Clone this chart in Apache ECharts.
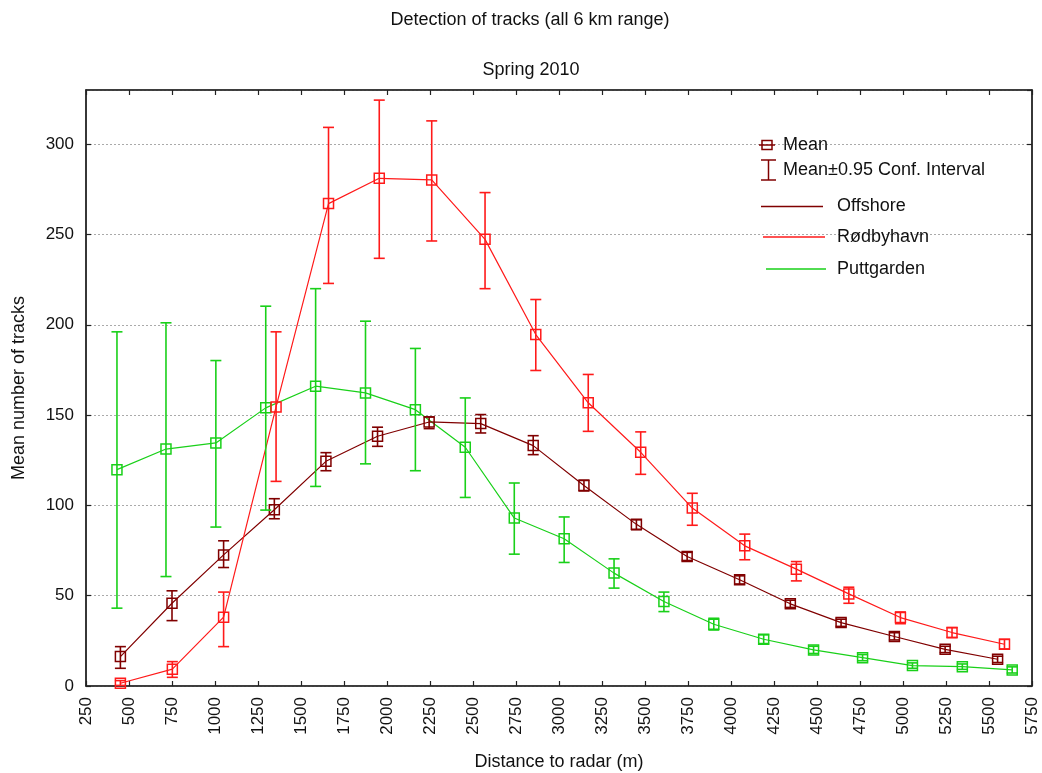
<!DOCTYPE html>
<html>
<head>
<meta charset="utf-8">
<script src="https://cdn.jsdelivr.net/npm/echarts@6/dist/echarts.min.js"></script>
<style>
html,body{margin:0;padding:0;background:#fff;}
#chart{width:1042px;height:773px;}
</style>
</head>
<body>
<div id="chart"></div>
<script>
// ---- data ----
const xTickMin = 250, xTickMax = 5750, xTickStep = 250;
const yTickMin = 0, yTickMax = 330, yTickStep = 50;

const offshoreX    = [450, 750, 1050, 1345, 1645, 1945, 2245, 2545, 2850, 3145, 3450, 3745, 4050, 4345, 4640, 4950, 5245, 5550];
const offshoreMean = [16.3, 45.8, 72.6, 97.6, 124.4, 138.3, 146.2, 145.3, 133.1, 111.0, 89.5, 71.7, 58.8, 45.5, 35.1, 27.4, 20.3, 14.8];
const offshoreLo   = [9.8, 36.2, 65.6, 92.6, 119.2, 132.7, 142.5, 140.1, 128.1, 108.0, 86.5, 69.5, 56.5, 43.5, 33.0, 25.5, 18.5, 13.0];
const offshoreHi   = [21.8, 52.7, 80.4, 103.7, 129.2, 143.3, 149.0, 150.3, 138.6, 114.0, 92.0, 74.0, 61.0, 47.5, 37.0, 29.5, 22.0, 16.5];

const rodbyX    = [450, 752, 1050, 1355, 1660, 1955, 2260, 2570, 2865, 3170, 3475, 3775, 4080, 4380, 4685, 4985, 5285, 5590];
const rodbyMean = [1.5, 9.3, 38.1, 154.5, 267.1, 281.1, 280.2, 247.3, 194.6, 156.8, 129.4, 98.5, 77.6, 64.7, 51.0, 37.9, 29.6, 23.1];
const rodbyLo   = [0.3, 4.8, 21.8, 113.3, 222.9, 236.8, 246.4, 220.0, 174.7, 141.0, 117.2, 89.0, 69.9, 58.2, 45.8, 34.5, 26.8, 20.5];
const rodbyHi   = [3.0, 13.5, 52.0, 196.1, 309.3, 324.4, 312.9, 273.2, 214.0, 172.5, 140.7, 106.7, 84.1, 68.9, 54.7, 41.0, 32.3, 25.8];

const puttX    = [430, 715, 1005, 1295, 1585, 1875, 2165, 2455, 2740, 3030, 3320, 3610, 3900, 4190, 4480, 4765, 5055, 5345, 5635];
const puttMean = [119.8, 131.2, 134.6, 154.0, 166.0, 162.3, 153.0, 132.2, 93.0, 81.5, 62.5, 46.8, 34.2, 25.9, 20.0, 15.7, 11.3, 10.7, 8.9];
const puttLo   = [43.1, 60.6, 88.0, 97.4, 110.5, 123.0, 119.2, 104.4, 73.0, 68.4, 54.2, 41.2, 31.0, 23.5, 18.0, 14.0, 9.8, 9.2, 7.2];
const puttHi   = [196.1, 201.1, 180.2, 210.3, 220.0, 202.0, 186.9, 159.5, 112.4, 93.6, 70.4, 52.0, 37.5, 28.3, 22.0, 17.4, 12.8, 12.2, 10.6];

const seriesNames = ['Offshore', 'Rødbyhavn', 'Puttgarden'];
const titleText = 'Detection of tracks (all 6 km range)';
const subtitleText = 'Spring 2010';
const xName = 'Distance to radar (m)';
const yName = 'Mean number of tracks';
const legendMean = 'Mean';
const legendCI = 'Mean±0.95 Conf. Interval';

// ---- styles ----
const C_OFF = '#800000', C_ROD = '#ff1a1a', C_PUT = '#19d019';
const FONT = '"Liberation Sans", Arial, sans-serif';
const FS = 18, FS_TICK = 17;

function pts(xs, ys){ return xs.map((x,i)=>[x, ys[i]]); }
function errs(xs, lo, hi){ return xs.map((x,i)=>[x, lo[i], hi[i]]); }

function errRenderer(color){
  return function(params, api){
    const x = api.value(0), lo = api.value(1), hi = api.value(2);
    const a = api.coord([x, lo]), b = api.coord([x, hi]);
    const w = 5.5;
    const st = {stroke: color, lineWidth: 1.6};
    return {type:'group', children:[
      {type:'line', shape:{x1:a[0], y1:a[1], x2:b[0], y2:b[1]}, style:st},
      {type:'line', shape:{x1:a[0]-w, y1:a[1], x2:a[0]+w, y2:a[1]}, style:st},
      {type:'line', shape:{x1:b[0]-w, y1:b[1], x2:b[0]+w, y2:b[1]}, style:st}
    ]};
  };
}

function lineSeries(name, data, color){
  return {
    name, type:'line', data, xAxisIndex:0, yAxisIndex:0,
    symbol:'rect', symbolSize:10, showAllSymbol:true,
    itemStyle:{color:'rgba(0,0,0,0)', borderColor:color, borderWidth:1.5},
    lineStyle:{color, width:1.2},
    emphasis:{disabled:true}, z:3
  };
}
function errSeries(name, data, color){
  return {
    name: name + ' CI', type:'custom', data, xAxisIndex:0, yAxisIndex:0,
    encode:{x:0, y:[1,2]}, renderItem: errRenderer(color), z:4
  };
}

const chart = echarts.init(document.getElementById('chart'), null, {renderer:'canvas'});

const axisLineStyle = {color:'#222', width:1.5};

const option = {
  animation:false,
  backgroundColor:'#fff',
  title:[
    {text:titleText, left:525, textAlign:'center', top:6, textStyle:{fontFamily:FONT, fontSize:FS, fontWeight:'normal', color:'#111'}},
    {text:subtitleText, left:526, textAlign:'center', top:56, textStyle:{fontFamily:FONT, fontSize:FS, fontWeight:'normal', color:'#111'}}
  ],
  grid:{left:86, right:10, top:90, bottom:87, show:true, borderColor:'#222', borderWidth:1.2,
        containLabel:false, outerBoundsMode:'none'},
  xAxis:[
    {type:'value', min:xTickMin, max:xTickMax, interval:xTickStep, position:'bottom',
     name:xName, nameLocation:'middle', nameGap:67,
     nameTextStyle:{fontFamily:FONT, fontSize:FS, color:'#111'},
     axisLine:{show:true, onZero:false, lineStyle:axisLineStyle},
     axisTick:{show:true, inside:true, length:5, lineStyle:{color:'#222', width:1.2}},
     axisLabel:{rotate:90, margin:11, fontFamily:FONT, fontSize:FS_TICK, color:'#111',
       formatter:function(v){ return String(v); }},
     splitLine:{show:false}},
    {type:'value', min:xTickMin, max:xTickMax, interval:xTickStep, position:'top',
     axisLine:{show:true, onZero:false, lineStyle:axisLineStyle},
     axisTick:{show:true, inside:true, length:5, lineStyle:{color:'#222', width:1.2}},
     axisLabel:{show:false}, splitLine:{show:false}}
  ],
  yAxis:[
    {type:'value', min:yTickMin, max:yTickMax, interval:yTickStep, position:'left',
     name:yName, nameLocation:'middle', nameGap:58,
     nameTextStyle:{fontFamily:FONT, fontSize:FS, color:'#111'},
     axisLine:{show:true, onZero:false, lineStyle:axisLineStyle},
     axisTick:{show:true, inside:true, length:5, lineStyle:{color:'#222', width:1.2}},
     axisLabel:{margin:12, fontFamily:FONT, fontSize:FS_TICK, color:'#111', showMaxLabel:false,
       formatter:function(v){ return v % yTickStep === 0 ? String(v) : ''; }},
     splitLine:{show:true, lineStyle:{color:'#aaa', type:[2,2], width:1}}},
    {type:'value', min:yTickMin, max:yTickMax, interval:yTickStep, position:'right',
     axisLine:{show:true, onZero:false, lineStyle:axisLineStyle},
     axisTick:{show:true, inside:true, length:5, lineStyle:{color:'#222', width:1.2}},
     axisLabel:{show:false}, splitLine:{show:false}}
  ],
  series:[
    lineSeries(seriesNames[2], pts(puttX, puttMean), C_PUT),
    errSeries(seriesNames[2], errs(puttX, puttLo, puttHi), C_PUT),
    lineSeries(seriesNames[0], pts(offshoreX, offshoreMean), C_OFF),
    errSeries(seriesNames[0], errs(offshoreX, offshoreLo, offshoreHi), C_OFF),
    lineSeries(seriesNames[1], pts(rodbyX, rodbyMean), C_ROD),
    errSeries(seriesNames[1], errs(rodbyX, rodbyLo, rodbyHi), C_ROD)
  ],
  graphic:[
    // Mean icon
    {type:'rect', shape:{x:762, y:140.5, width:10, height:9}, style:{fill:'none', stroke:C_OFF, lineWidth:1.5}, z:10},
    {type:'line', shape:{x1:759, y1:145, x2:775, y2:145}, style:{stroke:C_OFF, lineWidth:1.5}, z:10},
    {type:'text', x:783, y:145, style:{text:legendMean, fontFamily:FONT, fontSize:FS, fill:'#111', verticalAlign:'middle'}, z:10},
    // CI icon
    {type:'line', shape:{x1:768.5, y1:160, x2:768.5, y2:180}, style:{stroke:C_OFF, lineWidth:1.5}, z:10},
    {type:'line', shape:{x1:761, y1:160, x2:776, y2:160}, style:{stroke:C_OFF, lineWidth:1.5}, z:10},
    {type:'line', shape:{x1:761, y1:180, x2:776, y2:180}, style:{stroke:C_OFF, lineWidth:1.5}, z:10},
    {type:'text', x:783, y:170.5, style:{text:legendCI, fontFamily:FONT, fontSize:FS, fill:'#111', verticalAlign:'middle'}, z:10},
    // series lines
    {type:'line', shape:{x1:761, y1:206.5, x2:823, y2:206.5}, style:{stroke:C_OFF, lineWidth:1.5}, z:10},
    {type:'text', x:837, y:206.5, style:{text:seriesNames[0], fontFamily:FONT, fontSize:FS, fill:'#111', verticalAlign:'middle'}, z:10},
    {type:'line', shape:{x1:763, y1:237, x2:825, y2:237}, style:{stroke:C_ROD, lineWidth:1.5}, z:10},
    {type:'text', x:837, y:237, style:{text:seriesNames[1], fontFamily:FONT, fontSize:FS, fill:'#111', verticalAlign:'middle'}, z:10},
    {type:'line', shape:{x1:766, y1:269, x2:826, y2:269}, style:{stroke:C_PUT, lineWidth:1.5}, z:10},
    {type:'text', x:837, y:269, style:{text:seriesNames[2], fontFamily:FONT, fontSize:FS, fill:'#111', verticalAlign:'middle'}, z:10}
  ]
};
chart.setOption(option);
</script>
</body>
</html>
